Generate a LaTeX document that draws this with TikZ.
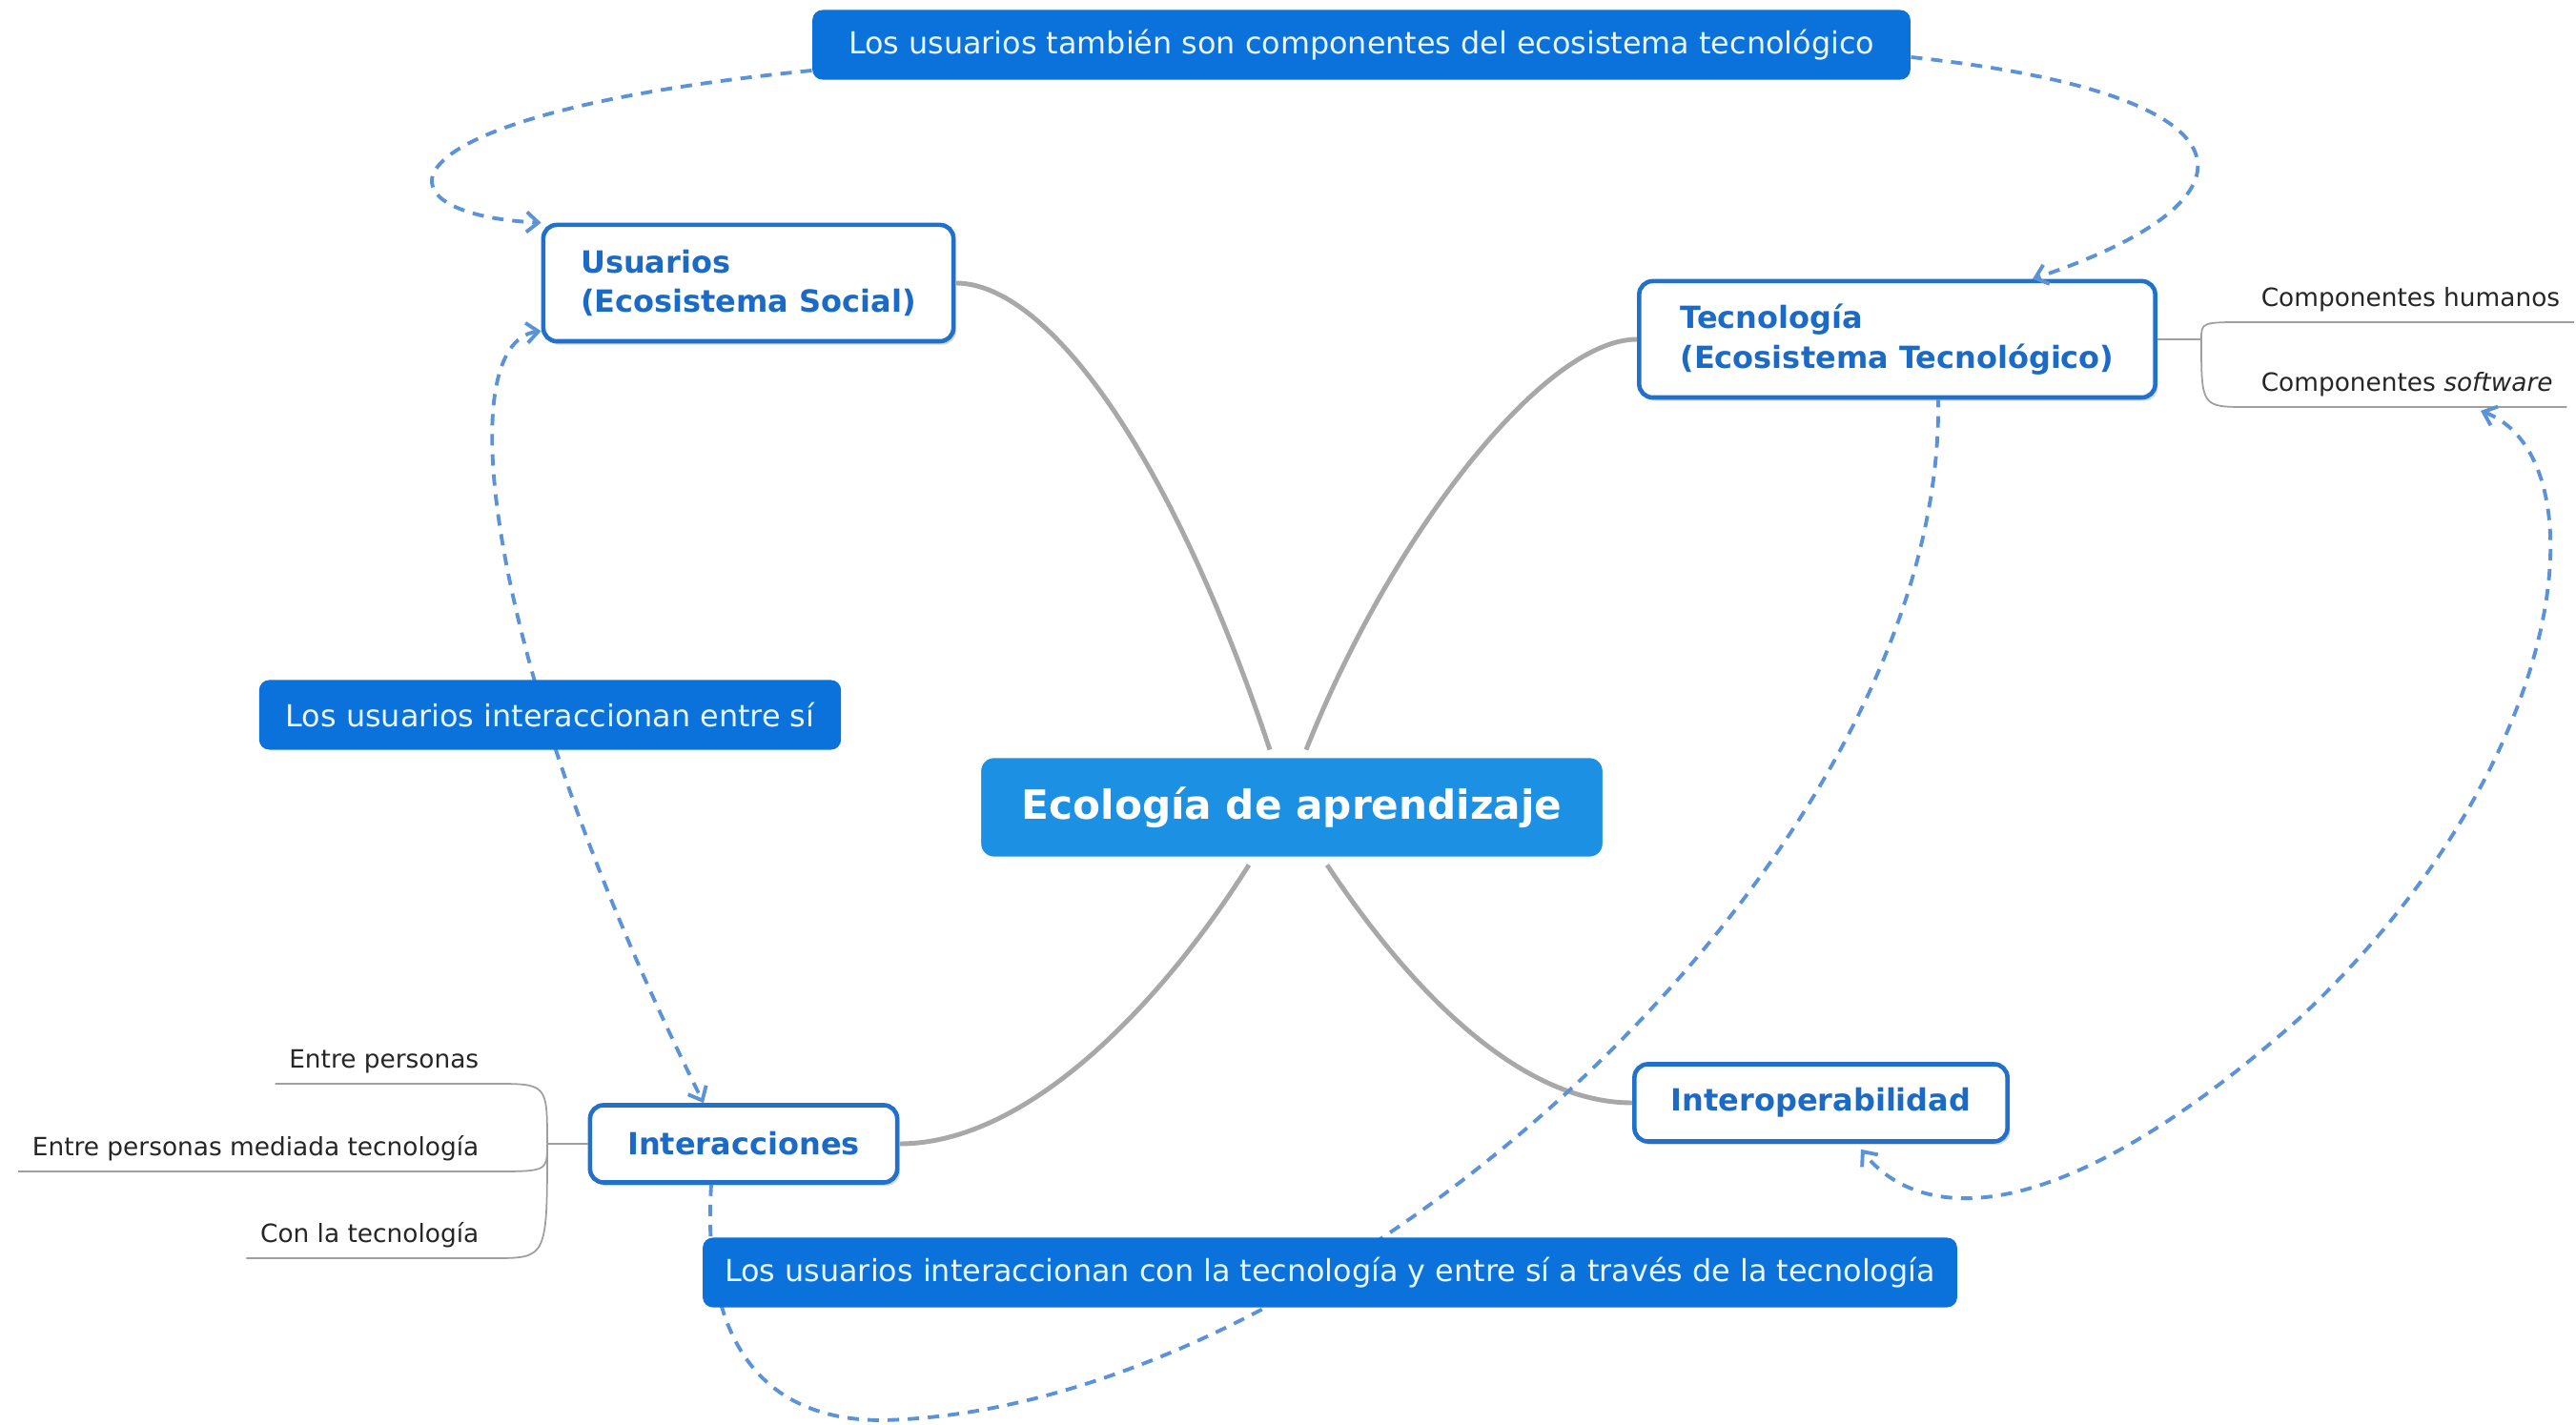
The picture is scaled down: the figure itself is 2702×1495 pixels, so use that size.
\documentclass[tikz,border=0pt]{standalone}
\usepackage{fontspec}
\setmainfont{DejaVu Sans}
\usetikzlibrary{arrows.meta,calc,shadows}
\definecolor{azulnota}{RGB}{10,114,218}
\definecolor{textonota}{RGB}{232,246,255}
\definecolor{azulcentro}{RGB}{28,144,226}
\definecolor{azulborde}{RGB}{32,112,204}
\definecolor{azultexto}{RGB}{26,106,198}
\definecolor{azulrel}{RGB}{92,146,216}
\definecolor{grisrama}{RGB}{168,168,168}
\begin{document}
\begin{tikzpicture}[x=0.01cm, y=-0.01cm,
    tema/.style={draw=azulborde, line width=1.3pt, fill=white, rounded corners=4pt,
        text=azultexto, align=left, font=\fontsize{9.1}{11.8}\selectfont\bfseries,
        drop shadow={shadow xshift=0.8pt, shadow yshift=-1pt, opacity=0.3}},
    centro/.style={fill=azulcentro, draw=white, line width=2.5pt, rounded corners=5pt,
        text=white, font=\fontsize{12}{14}\selectfont\bfseries,
        minimum width=6.6cm, minimum height=1.12cm,
        drop shadow={shadow xshift=0.8pt, shadow yshift=-1pt, opacity=0.3}},
    nota/.style={fill=azulnota, text=textonota, rounded corners=3pt,
        font=\fontsize{9.05}{11}\selectfont, minimum height=0.73cm},
    hoja/.style={text=black!85, font=\fontsize{7.5}{9}\selectfont, inner xsep=4pt, inner ysep=2.8pt},
    rama/.style={draw=grisrama, line width=1.4pt},
    tallo/.style={draw=gray!75, line width=0.5pt},
    rel/.style={draw=azulrel, line width=1.1pt, dash pattern=on 3.4pt off 2.6pt},
    >={Straight Barb[length=3.5pt, width=6pt]}
]

    % 0. fondo y marco
    \fill[white] (0,0) rectangle (2702,1495);
    \useasboundingbox (0,0) rectangle (2702,1495);

    % 1. nodos principales
    \node[centro] (eco) at (1355,847) {Ecología de aprendizaje};
    \node[tema, minimum width=4.3cm, minimum height=1.22cm] (usu) at (785,297) {Usuarios\\(Ecosistema Social)};
    \node[tema, minimum width=5.41cm, minimum height=1.22cm] (tec) at (1990,356) {Tecnología\\(Ecosistema Tecnológico)};
    \node[tema, minimum width=3.22cm, minimum height=0.81cm] (inter) at (780,1200) {Interacciones};
    \node[tema, minimum width=3.91cm, minimum height=0.81cm] (interop) at (1910,1157) {Interoperabilidad};

    % nota superior
    \node[nota, minimum width=11.51cm] (notasup) at (1428,47) {Los usuarios también son componentes del ecosistema tecnológico};

    % 2. hojas
    \node[hoja, anchor=south west] (hum) at (2357,338) {Componentes humanos};
    \node[hoja, anchor=south west] (soft) at (2357,427) {Componentes \textit{software}};
    \node[hoja, anchor=south east] (per) at (517,1137) {Entre personas};
    \node[hoja, anchor=south east] (med) at (517,1229) {Entre personas mediada tecnología};
    \node[hoja, anchor=south east] (con) at (517,1320) {Con la tecnología};

    % llaves de las hojas
    \coordinate (jd) at (2309,356);
    \coordinate (ji) at (574,1200);
    \draw[tallo] (tec.east) -- (jd);
    \foreach \h in {hum,soft} {
        \draw[tallo] (jd) .. controls (jd |- \h.south west) .. (\h.south west) -- (\h.south east);
    }
    \draw[tallo] (inter.west) -- (ji);
    \foreach \h in {per,med,con} {
        \draw[tallo] (ji) .. controls (ji |- \h.south east) .. (\h.south east) -- (\h.south west);
    }

    % 3. ramas grises
    \draw[rama] (usu.east) .. controls (1100,297) and (1230,480) .. ($(eco.north)+(-23,0)$);
    \draw[rama] (tec.west) .. controls (1620,356) and (1460,560) .. ($(eco.north)+(15,0)$);
    \draw[rama] ($(eco.south)+(-45,0)$) .. controls (1220,1050) and (1080,1200) .. (inter.east);
    \draw[rama] ($(eco.south)+(37,0)$) .. controls (1460,1010) and (1580,1157) .. (interop.west);

    % 4. relaciones (discontinuas)
    \draw[rel, ->] ($(notasup.west)+(0,27)$) .. controls (385,120) and (385,225) .. (usu.north west);
    \draw[rel, ->] ($(notasup.east)+(0,13)$) .. controls (2380,100) and (2380,210) .. ($(tec.north)+(142,0)$);
    \draw[rel, <->] ($(usu.south west)+(0,-13)$) .. controls (470,360) and (510,700) .. ($(inter.north)+(-42,0)$);
    \draw[rel] ($(inter.south)+(-34,0)$) .. controls (735,1420) and (810,1490) .. (925,1490)
        .. controls (1400,1480) and (2040,900) .. ($(tec.south)+(43,0)$);
    \draw[rel, <->] ($(soft.south west)+(245,4)$) .. controls (2730,480) and (2700,800) .. (2410,1070)
        .. controls (2150,1300) and (2010,1280) .. ($(interop.south)+(42,6)$);

    % 5. notas sobre las relaciones
    \node[nota, minimum width=6.1cm] (notasoc) at (577,750) {Los usuarios interaccionan entre sí};
    \node[nota, minimum width=13.15cm] (notainf) at (1395,1335) {Los usuarios interaccionan con la tecnología y entre sí a través de la tecnología};

\end{tikzpicture}
\end{document}
